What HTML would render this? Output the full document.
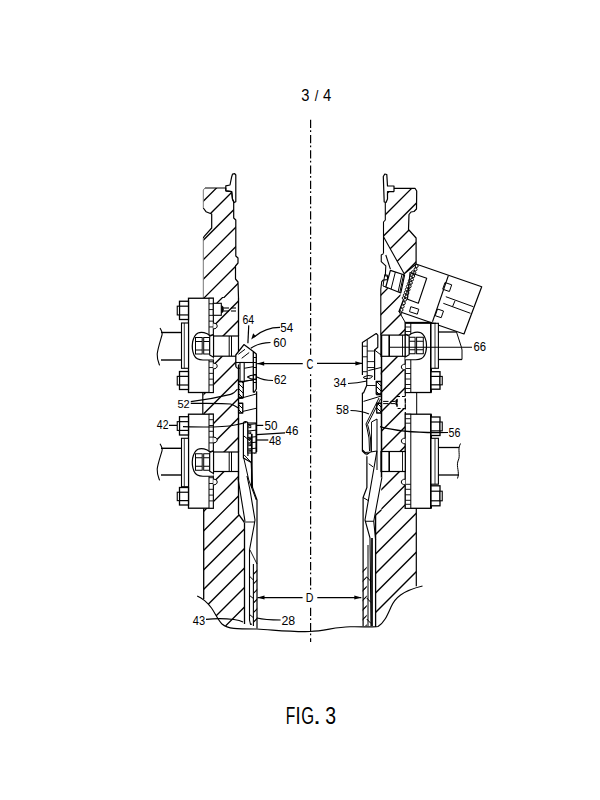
<!DOCTYPE html>
<html><head><meta charset="utf-8"><style>
html,body{margin:0;padding:0;background:#fff;overflow:hidden;}
svg{display:block;}
text{font-family:"Liberation Sans",sans-serif;fill:#000;}
</style></head><body>
<svg width="600" height="800" viewBox="0 0 600 800">
<defs><clipPath id="c1"><polygon points="203.30,190.00 205.00,188.00 225.80,188.00 225.80,190.80 231.70,191.70 232.50,199.20 233.70,202.00 233.70,218.00 235.80,220.00 235.80,256.00 238.00,258.00 238.00,263.00 235.50,266.00 235.50,279.00 238.00,282.00 238.50,298.00 203.30,298.00 203.30,238.00 204.00,236.70 211.70,228.00 211.70,214.00 206.00,211.70 203.30,208.00"/></clipPath><clipPath id="c2"><polygon points="203.30,297.00 238.50,297.00 238.50,514.20 244.50,522.50 244.50,624.00 236.00,628.80 229.00,628.00 220.00,622.00 215.00,614.00 211.00,607.00 203.70,599.00"/></clipPath><clipPath id="c3"><polygon points="385.30,202.50 387.50,191.70 394.00,191.70 394.00,188.30 415.00,188.30 416.70,191.00 416.50,209.00 414.00,211.50 411.00,212.00 409.00,214.50 408.50,229.50 416.10,238.00 416.10,264.00 404.30,273.90 383.50,236.70 383.50,222.00 385.30,220.00"/></clipPath><clipPath id="c4"><polygon points="380.70,288.50 385.70,287.40 400.40,293.00 401.50,309.90 399.00,311.50 405.30,316.00 405.30,508.30 416.30,508.30 416.30,586.30 405.00,592.50 395.00,602.50 387.50,617.50 380.00,626.30 375.60,627.00 375.60,515.00 381.25,510.00 381.25,485.00 381.90,477.50 380.70,412.00"/></clipPath><clipPath id="c5"><polygon points="238.60,381.50 243.30,381.50 243.30,397.50 238.60,397.50"/></clipPath><clipPath id="c6"><polygon points="238.60,403.25 242.75,403.25 242.75,413.00 238.60,413.00"/></clipPath><clipPath id="c7"><polygon points="253.40,565.00 257.20,565.00 257.20,626.00 253.40,626.00"/></clipPath><clipPath id="c8"><polygon points="376.25,381.50 381.25,381.50 381.25,394.00 376.25,394.00"/></clipPath><clipPath id="c9"><polygon points="376.75,403.25 381.25,403.25 381.25,413.00 376.75,413.00"/></clipPath><clipPath id="c10"><polygon points="362.60,566.00 366.75,566.00 366.75,626.00 362.60,626.00"/></clipPath></defs>
<rect x="0" y="0" width="600" height="800" fill="#fff"/>
<path d="M201.30,183.70L240.50,144.50M201.30,203.20L240.50,164.00M201.30,222.70L240.50,183.50M201.30,242.20L240.50,203.00M201.30,261.70L240.50,222.50M201.30,281.20L240.50,242.00M201.30,300.70L240.50,261.50M201.30,320.20L240.50,281.00M201.30,339.70L240.50,300.50" stroke="#000" stroke-width="1.25" fill="none" clip-path="url(#c1)"/>
<path d="M201.30,279.70L246.50,234.50M201.30,299.20L246.50,254.00M201.30,318.70L246.50,273.50M201.30,338.20L246.50,293.00M201.30,357.70L246.50,312.50M201.30,377.20L246.50,332.00M201.30,396.70L246.50,351.50M201.30,416.20L246.50,371.00M201.30,435.70L246.50,390.50M201.30,455.20L246.50,410.00M201.30,474.70L246.50,429.50M201.30,494.20L246.50,449.00M201.30,513.70L246.50,468.50M201.30,533.20L246.50,488.00M201.30,552.70L246.50,507.50M201.30,572.20L246.50,527.00M201.30,591.70L246.50,546.50M201.30,611.20L246.50,566.00M201.30,630.70L246.50,585.50M201.30,650.20L246.50,605.00M201.30,669.70L246.50,624.50M201.30,689.20L246.50,644.00" stroke="#000" stroke-width="1.25" fill="none" clip-path="url(#c2)"/>
<path d="M381.50,179.50L418.70,142.30M381.50,199.00L418.70,161.80M381.50,218.50L418.70,181.30M381.50,238.00L418.70,200.80M381.50,257.50L418.70,220.30M381.50,277.00L418.70,239.80M381.50,296.50L418.70,259.30M381.50,316.00L418.70,278.80" stroke="#000" stroke-width="1.25" fill="none" clip-path="url(#c3)"/>
<path d="M373.60,282.90L418.30,238.20M373.60,302.40L418.30,257.70M373.60,321.90L418.30,277.20M373.60,341.40L418.30,296.70M373.60,360.90L418.30,316.20M373.60,380.40L418.30,335.70M373.60,399.90L418.30,355.20M373.60,419.40L418.30,374.70M373.60,438.90L418.30,394.20M373.60,458.40L418.30,413.70M373.60,477.90L418.30,433.20M373.60,497.40L418.30,452.70M373.60,516.90L418.30,472.20M373.60,536.40L418.30,491.70M373.60,555.90L418.30,511.20M373.60,575.40L418.30,530.70M373.60,594.90L418.30,550.20M373.60,614.40L418.30,569.70M373.60,633.90L418.30,589.20M373.60,653.40L418.30,608.70M373.60,672.90L418.30,628.20" stroke="#000" stroke-width="1.25" fill="none" clip-path="url(#c4)"/>
<path d="M310.6,119.70V127.90M310.6,130.30V131.90M310.6,134.95V143.15M310.6,145.55V147.15M310.6,150.20V158.40M310.6,160.80V162.40M310.6,165.45V173.65M310.6,176.05V177.65M310.6,180.70V188.90M310.6,191.30V192.90M310.6,195.95V204.15M310.6,206.55V208.15M310.6,211.20V219.40M310.6,221.80V223.40M310.6,226.45V234.65M310.6,237.05V238.65M310.6,241.70V249.90M310.6,252.30V253.90M310.6,256.95V265.15M310.6,267.55V269.15M310.6,272.20V280.40M310.6,282.80V284.40M310.6,287.45V295.65M310.6,298.05V299.65M310.6,302.70V310.90M310.6,313.30V314.90M310.6,317.95V326.15M310.6,328.55V330.15M310.6,333.20V341.40M310.6,343.80V345.40M310.6,348.45V354.75" stroke="#000" stroke-width="1.2" fill="none"/>
<path d="M310.6,374.30V375.90M310.6,378.95V387.15M310.6,389.55V391.15M310.6,394.20V402.40M310.6,404.80V406.40M310.6,409.45V417.65M310.6,420.05V421.65M310.6,424.70V432.90M310.6,435.30V436.90M310.6,439.95V448.15M310.6,450.55V452.15M310.6,455.20V463.40M310.6,465.80V467.40M310.6,470.45V478.65M310.6,481.05V482.65M310.6,485.70V493.90M310.6,496.30V497.90M310.6,500.95V509.15M310.6,511.55V513.15M310.6,516.20V524.40M310.6,526.80V528.40M310.6,531.45V539.65M310.6,542.05V543.65M310.6,546.70V554.90M310.6,557.30V558.90M310.6,561.95V570.15M310.6,572.55V574.15M310.6,577.20V585.40M310.6,587.80V589.40" stroke="#000" stroke-width="1.2" fill="none"/>
<path d="M310.6,607.70V615.90M310.6,618.30V619.90M310.6,622.95V631.15M310.6,633.55V635.15M310.6,638.20V642.00" stroke="#000" stroke-width="1.2" fill="none"/>
<text x="0" y="0" font-size="100" transform="matrix(0.14737 0 0 0.15689 301.147 100.643)">3</text>
<text x="0" y="0" font-size="100" transform="matrix(0.12973 0 0 0.15102 314.700 100.649)">/</text>
<text x="0" y="0" font-size="100" transform="matrix(0.14851 0 0 0.16145 322.966 100.800)">4</text>
<text x="0" y="0" font-size="100" transform="matrix(0.15590 0 0 0.24436 285.714 723.800)">F</text>
<text x="0" y="0" font-size="100" transform="matrix(0.18378 0 0 0.24436 295.600 723.800)">I</text>
<text x="0" y="0" font-size="100" transform="matrix(0.16552 0 0 0.23746 301.372 723.563)">G</text>
<text x="0" y="0" font-size="100" transform="matrix(0.28947 0 0 0.26047 313.072 723.800)">.</text>
<text x="0" y="0" font-size="100" transform="matrix(0.19474 0 0 0.23746 325.270 723.563)">3</text>
<text x="0" y="0" font-size="100" transform="matrix(0.10508 0 0 0.12933 242.375 323.621)">64</text>
<text x="0" y="0" font-size="100" transform="matrix(0.11607 0 0 0.13190 280.336 331.968)">54</text>
<text x="0" y="0" font-size="100" transform="matrix(0.11785 0 0 0.13569 273.161 346.564)">60</text>
<text x="0" y="0" font-size="100" transform="matrix(0.11386 0 0 0.12721 273.931 383.873)">62</text>
<text x="0" y="0" font-size="100" transform="matrix(0.11078 0 0 0.11731 177.457 407.783)">52</text>
<text x="0" y="0" font-size="100" transform="matrix(0.10410 0 0 0.11971 156.866 428.750)">42</text>
<text x="0" y="0" font-size="100" transform="matrix(0.11719 0 0 0.12367 264.531 429.876)">50</text>
<text x="0" y="0" font-size="100" transform="matrix(0.11579 0 0 0.12933 285.539 435.271)">46</text>
<text x="0" y="0" font-size="100" transform="matrix(0.11100 0 0 0.13569 268.950 445.264)">48</text>
<text x="0" y="0" font-size="100" transform="matrix(0.11100 0 0 0.12721 192.750 624.873)">43</text>
<text x="0" y="0" font-size="100" transform="matrix(0.12383 0 0 0.12721 281.381 624.873)">28</text>
<text x="0" y="0" font-size="100" transform="matrix(0.11483 0 0 0.12014 333.569 386.880)">34</text>
<text x="0" y="0" font-size="100" transform="matrix(0.11679 0 0 0.12014 336.033 414.380)">58</text>
<text x="0" y="0" font-size="100" transform="matrix(0.10706 0 0 0.12721 448.572 436.873)">56</text>
<text x="0" y="0" font-size="100" transform="matrix(0.11302 0 0 0.12721 473.435 350.873)">66</text>
<text x="0" y="0" font-size="100" transform="matrix(0.09486 0 0 0.13781 306.526 368.862)">C</text>
<text x="0" y="0" font-size="100" transform="matrix(0.10633 0 0 0.12218 305.823 601.800)">D</text>
<polyline points="205.00,188.00 225.80,188.00 225.80,190.80 231.70,191.70 232.50,199.20 233.70,202.00 233.70,218.00 235.80,220.00 235.80,256.00 238.00,258.00 238.00,263.00 235.50,266.00 235.50,279.00 238.00,282.00 238.50,298.00" fill="none" stroke="#000" stroke-width="1.2" stroke-linejoin="round"/>
<polyline points="203.30,238.00 204.00,236.70 211.70,228.00 211.70,214.00 206.00,211.70 203.30,208.00" fill="none" stroke="#000" stroke-width="1.2" stroke-linejoin="round"/>
<line x1="203.30" y1="190.00" x2="203.30" y2="208.00" stroke="#777" stroke-width="1.0"/>
<line x1="203.30" y1="238.00" x2="203.30" y2="298.00" stroke="#777" stroke-width="1.0"/>
<polyline points="203.30,190.00 205.00,188.00" fill="none" stroke="#777" stroke-width="1.0" stroke-linejoin="round"/>
<polyline points="225.80,190.80 225.80,185.80 230.00,185.00 231.70,176.70 232.50,174.20 234.70,173.70 235.80,175.00 235.80,201.70 234.20,202.50 232.50,199.20 231.70,191.70 225.80,190.80" fill="none" stroke="#000" stroke-width="1.2" stroke-linejoin="round"/>
<line x1="202.80" y1="392.50" x2="202.80" y2="414.20" stroke="#000" stroke-width="1.2"/>
<line x1="238.50" y1="298.00" x2="238.50" y2="336.00" stroke="#000" stroke-width="1.3"/>
<line x1="238.50" y1="356.00" x2="238.50" y2="452.00" stroke="#000" stroke-width="1.3"/>
<line x1="238.50" y1="471.50" x2="238.50" y2="514.20" stroke="#000" stroke-width="1.3"/>
<line x1="238.50" y1="514.20" x2="244.50" y2="522.50" stroke="#000" stroke-width="1.3"/>
<line x1="244.50" y1="522.50" x2="244.50" y2="624.00" stroke="#000" stroke-width="1.3"/>
<line x1="203.70" y1="508.20" x2="203.70" y2="599.00" stroke="#000" stroke-width="1.3"/>
<rect x="188.50" y="298.25" width="24.80" height="94.25" fill="#fff" stroke="#000" stroke-width="1.3"/>
<rect x="209.00" y="298.25" width="4.30" height="94.25" fill="#fff" stroke="#000" stroke-width="1.0"/>
<line x1="209.00" y1="303.75" x2="213.30" y2="303.75" stroke="#000" stroke-width="0.9"/>
<line x1="209.00" y1="309.55" x2="213.30" y2="309.55" stroke="#000" stroke-width="0.9"/>
<line x1="209.00" y1="315.35" x2="213.30" y2="315.35" stroke="#000" stroke-width="0.9"/>
<line x1="209.00" y1="321.15" x2="213.30" y2="321.15" stroke="#000" stroke-width="0.9"/>
<line x1="209.00" y1="326.95" x2="213.30" y2="326.95" stroke="#000" stroke-width="0.9"/>
<line x1="209.00" y1="361.75" x2="213.30" y2="361.75" stroke="#000" stroke-width="0.9"/>
<line x1="209.00" y1="367.55" x2="213.30" y2="367.55" stroke="#000" stroke-width="0.9"/>
<line x1="209.00" y1="373.35" x2="213.30" y2="373.35" stroke="#000" stroke-width="0.9"/>
<line x1="209.00" y1="379.15" x2="213.30" y2="379.15" stroke="#000" stroke-width="0.9"/>
<line x1="209.00" y1="384.95" x2="213.30" y2="384.95" stroke="#000" stroke-width="0.9"/>
<rect x="179.50" y="301.25" width="9.00" height="18.25" fill="#fff" stroke="#000" stroke-width="1.3"/>
<line x1="179.50" y1="306.18" x2="188.50" y2="306.18" stroke="#000" stroke-width="1.2"/>
<line x1="179.50" y1="314.94" x2="188.50" y2="314.94" stroke="#000" stroke-width="1.2"/>
<rect x="177.25" y="306.18" width="2.25" height="8.76" fill="#fff" stroke="#000" stroke-width="1.1"/>
<rect x="179.50" y="371.50" width="9.00" height="18.00" fill="#fff" stroke="#000" stroke-width="1.3"/>
<line x1="179.50" y1="376.36" x2="188.50" y2="376.36" stroke="#000" stroke-width="1.2"/>
<line x1="179.50" y1="385.00" x2="188.50" y2="385.00" stroke="#000" stroke-width="1.2"/>
<rect x="177.25" y="376.36" width="2.25" height="8.64" fill="#fff" stroke="#000" stroke-width="1.1"/>
<rect x="181.50" y="323.00" width="7.00" height="45.30" fill="#fff" stroke="#000" stroke-width="1.1"/>
<line x1="184.30" y1="323.00" x2="184.30" y2="368.30" stroke="#000" stroke-width="0.8"/>
<line x1="161.00" y1="332.50" x2="181.50" y2="332.50" stroke="#000" stroke-width="1.4"/>
<line x1="161.00" y1="360.00" x2="181.50" y2="360.00" stroke="#000" stroke-width="1.4"/>
<path d="M160,328.0 C161.5,330.5 162.5,333.5 162,335.0 C160.5,340.5 158,347.625 157.2,353.95 C157,359 158,361 159.6,365.4" fill="none" stroke="#000" stroke-width="1.1" stroke-linejoin="round"/>
<rect x="213.50" y="336.00" width="25.00" height="20.20" fill="#fff" stroke="#000" stroke-width="1.2"/>
<line x1="229.20" y1="336.00" x2="229.20" y2="356.20" stroke="#000" stroke-width="1.0"/>
<line x1="231.50" y1="336.00" x2="231.50" y2="356.20" stroke="#000" stroke-width="1.0"/>
<path d="M213.5,334.5 L209.7,335.5 C207,332.5 201,331.5 198,333.0 C195,334.5 193.5,338.0 192.6,342.0 C192,346.0 192.3,351.0 194,355.0 C195.5,358.5 199,360.0 203,360.0 L213.5,360.0" fill="#fff" stroke="#000" stroke-width="1.2" stroke-linejoin="round"/>
<rect x="195.50" y="337.50" width="6.70" height="16.50" fill="#fff" stroke="#000" stroke-width="1.0"/>
<rect x="203.70" y="337.50" width="6.00" height="16.50" fill="#fff" stroke="#000" stroke-width="1.0"/>
<line x1="195.50" y1="341.50" x2="202.20" y2="341.50" stroke="#000" stroke-width="1.0"/>
<line x1="195.50" y1="350.00" x2="202.20" y2="350.00" stroke="#000" stroke-width="1.0"/>
<line x1="203.70" y1="341.50" x2="209.70" y2="341.50" stroke="#000" stroke-width="1.0"/>
<line x1="203.70" y1="350.00" x2="209.70" y2="350.00" stroke="#000" stroke-width="1.0"/>
<polyline points="209.70,336.20 213.50,334.70 213.50,357.20 209.70,355.00 209.70,336.20" fill="#fff" stroke="#000" stroke-width="1.1" stroke-linejoin="round"/>
<path d="M213.3,323.2 C218.5,322.8 218.5,329.2 213.3,328.8" fill="#fff" stroke="#000" stroke-width="1.0" stroke-linejoin="round"/>
<path d="M213.3,363.2 C218.5,362.8 218.5,369.2 213.3,368.8" fill="#fff" stroke="#000" stroke-width="1.0" stroke-linejoin="round"/>
<rect x="188.50" y="414.20" width="24.80" height="94.00" fill="#fff" stroke="#000" stroke-width="1.3"/>
<rect x="209.00" y="414.20" width="4.30" height="94.00" fill="#fff" stroke="#000" stroke-width="1.0"/>
<line x1="209.00" y1="419.70" x2="213.30" y2="419.70" stroke="#000" stroke-width="0.9"/>
<line x1="209.00" y1="425.50" x2="213.30" y2="425.50" stroke="#000" stroke-width="0.9"/>
<line x1="209.00" y1="431.30" x2="213.30" y2="431.30" stroke="#000" stroke-width="0.9"/>
<line x1="209.00" y1="437.10" x2="213.30" y2="437.10" stroke="#000" stroke-width="0.9"/>
<line x1="209.00" y1="442.90" x2="213.30" y2="442.90" stroke="#000" stroke-width="0.9"/>
<line x1="209.00" y1="477.70" x2="213.30" y2="477.70" stroke="#000" stroke-width="0.9"/>
<line x1="209.00" y1="483.50" x2="213.30" y2="483.50" stroke="#000" stroke-width="0.9"/>
<line x1="209.00" y1="489.30" x2="213.30" y2="489.30" stroke="#000" stroke-width="0.9"/>
<line x1="209.00" y1="495.10" x2="213.30" y2="495.10" stroke="#000" stroke-width="0.9"/>
<line x1="209.00" y1="500.90" x2="213.30" y2="500.90" stroke="#000" stroke-width="0.9"/>
<rect x="179.50" y="416.70" width="9.00" height="18.30" fill="#fff" stroke="#000" stroke-width="1.3"/>
<line x1="179.50" y1="421.64" x2="188.50" y2="421.64" stroke="#000" stroke-width="1.2"/>
<line x1="179.50" y1="430.43" x2="188.50" y2="430.43" stroke="#000" stroke-width="1.2"/>
<rect x="177.25" y="421.64" width="2.25" height="8.78" fill="#fff" stroke="#000" stroke-width="1.1"/>
<rect x="179.50" y="487.50" width="9.00" height="17.50" fill="#fff" stroke="#000" stroke-width="1.3"/>
<line x1="179.50" y1="492.23" x2="188.50" y2="492.23" stroke="#000" stroke-width="1.2"/>
<line x1="179.50" y1="500.62" x2="188.50" y2="500.62" stroke="#000" stroke-width="1.2"/>
<rect x="177.25" y="492.23" width="2.25" height="8.40" fill="#fff" stroke="#000" stroke-width="1.1"/>
<rect x="181.50" y="438.30" width="7.00" height="48.40" fill="#fff" stroke="#000" stroke-width="1.1"/>
<line x1="184.30" y1="438.30" x2="184.30" y2="486.70" stroke="#000" stroke-width="0.8"/>
<line x1="161.00" y1="448.30" x2="181.50" y2="448.30" stroke="#000" stroke-width="1.4"/>
<line x1="161.00" y1="475.00" x2="181.50" y2="475.00" stroke="#000" stroke-width="1.4"/>
<path d="M160,443.8 C161.5,446.3 162.5,449.3 162,450.8 C160.5,456.3 158,462.985 157.2,469.126 C157,474 158,476 159.6,480.4" fill="none" stroke="#000" stroke-width="1.1" stroke-linejoin="round"/>
<rect x="213.50" y="452.00" width="25.00" height="19.50" fill="#fff" stroke="#000" stroke-width="1.2"/>
<line x1="229.20" y1="452.00" x2="229.20" y2="471.50" stroke="#000" stroke-width="1.0"/>
<line x1="231.50" y1="452.00" x2="231.50" y2="471.50" stroke="#000" stroke-width="1.0"/>
<path d="M213.5,450.75 L209.7,451.75 C207,448.75 201,447.75 198,449.25 C195,450.75 193.5,454.25 192.6,458.25 C192,462.25 192.3,467.25 194,471.25 C195.5,474.75 199,476.25 203,476.25 L213.5,476.25" fill="#fff" stroke="#000" stroke-width="1.2" stroke-linejoin="round"/>
<rect x="195.50" y="453.75" width="6.70" height="16.50" fill="#fff" stroke="#000" stroke-width="1.0"/>
<rect x="203.70" y="453.75" width="6.00" height="16.50" fill="#fff" stroke="#000" stroke-width="1.0"/>
<line x1="195.50" y1="457.75" x2="202.20" y2="457.75" stroke="#000" stroke-width="1.0"/>
<line x1="195.50" y1="466.25" x2="202.20" y2="466.25" stroke="#000" stroke-width="1.0"/>
<line x1="203.70" y1="457.75" x2="209.70" y2="457.75" stroke="#000" stroke-width="1.0"/>
<line x1="203.70" y1="466.25" x2="209.70" y2="466.25" stroke="#000" stroke-width="1.0"/>
<polyline points="209.70,452.45 213.50,450.95 213.50,473.45 209.70,471.25 209.70,452.45" fill="#fff" stroke="#000" stroke-width="1.1" stroke-linejoin="round"/>
<path d="M213.3,437.2 C218.5,436.8 218.5,443.2 213.3,442.8" fill="#fff" stroke="#000" stroke-width="1.0" stroke-linejoin="round"/>
<path d="M213.3,479.2 C218.5,478.8 218.5,485.2 213.3,484.8" fill="#fff" stroke="#000" stroke-width="1.0" stroke-linejoin="round"/>
<rect x="213.30" y="303.30" width="8.00" height="12.00" fill="#fff" stroke="#000" stroke-width="1.1"/>
<polygon points="221.3,304.8 223.8,307.2 223.8,311.4 221.3,313.8" fill="#000"/>
<line x1="224.00" y1="308.00" x2="229.00" y2="308.00" stroke="#000" stroke-width="1.1"/>
<line x1="224.00" y1="311.00" x2="229.00" y2="311.00" stroke="#000" stroke-width="1.1"/>
<line x1="231.00" y1="308.00" x2="236.00" y2="308.00" stroke="#000" stroke-width="1.1"/>
<line x1="231.00" y1="311.00" x2="236.00" y2="311.00" stroke="#000" stroke-width="1.1"/>
<polyline points="235.80,366.70 235.80,355.00 243.90,344.60 253.30,351.50 256.30,354.00 256.30,389.00 254.50,392.00 253.30,392.00 253.30,352.00" fill="#fff" stroke="#000" stroke-width="1.3" stroke-linejoin="round"/>
<line x1="253.30" y1="357.50" x2="256.30" y2="357.50" stroke="#000" stroke-width="1.0"/>
<line x1="253.30" y1="362.50" x2="256.30" y2="362.50" stroke="#000" stroke-width="1.0"/>
<line x1="253.30" y1="367.50" x2="256.30" y2="367.50" stroke="#000" stroke-width="1.0"/>
<line x1="253.30" y1="374.50" x2="256.30" y2="374.50" stroke="#000" stroke-width="1.0"/>
<line x1="253.30" y1="382.50" x2="256.30" y2="382.50" stroke="#000" stroke-width="1.0"/>
<polyline points="235.80,366.70 237.50,368.30 240.00,368.30" fill="none" stroke="#000" stroke-width="1.1" stroke-linejoin="round"/>
<line x1="235.80" y1="362.50" x2="253.30" y2="362.50" stroke="#000" stroke-width="1.1"/>
<line x1="238.30" y1="354.30" x2="245.00" y2="349.30" stroke="#000" stroke-width="1.0"/>
<line x1="241.70" y1="358.30" x2="249.20" y2="352.50" stroke="#000" stroke-width="1.0"/>
<rect x="240.00" y="362.50" width="4.20" height="19.20" fill="#fff" stroke="#000" stroke-width="1.1"/>
<line x1="244.20" y1="368.30" x2="253.30" y2="366.70" stroke="#000" stroke-width="1.0"/>
<line x1="244.20" y1="381.20" x2="253.30" y2="380.00" stroke="#000" stroke-width="1.0"/>
<path d="M236.60,371.60L245.30,380.30M236.60,376.60L245.30,385.30M236.60,381.60L245.30,390.30M236.60,386.60L245.30,395.30M236.60,391.60L245.30,400.30M236.60,396.60L245.30,405.30" stroke="#000" stroke-width="1.0" fill="none" clip-path="url(#c5)"/>
<polygon points="238.60,381.50 243.30,381.50 243.30,397.50 238.60,397.50" fill="none" stroke="#000" stroke-width="1.3" stroke-linejoin="round"/>
<line x1="238.60" y1="397.80" x2="243.30" y2="397.80" stroke="#000" stroke-width="1.8"/>
<path d="M236.60,392.60L244.75,400.75M236.60,397.60L244.75,405.75M236.60,402.60L244.75,410.75M236.60,407.60L244.75,415.75M236.60,412.60L244.75,420.75" stroke="#000" stroke-width="1.0" fill="none" clip-path="url(#c6)"/>
<polygon points="238.60,403.25 242.75,403.25 242.75,413.00 238.60,413.00" fill="none" stroke="#000" stroke-width="1.3" stroke-linejoin="round"/>
<line x1="242.80" y1="381.70" x2="256.60" y2="379.00" stroke="#000" stroke-width="1.0"/>
<line x1="239.10" y1="398.70" x2="256.60" y2="393.90" stroke="#000" stroke-width="1.0"/>
<line x1="242.80" y1="411.40" x2="256.60" y2="408.20" stroke="#000" stroke-width="1.0"/>
<line x1="256.60" y1="391.30" x2="256.60" y2="452.00" stroke="#000" stroke-width="1.3"/>
<polyline points="254.20,453.30 256.60,451.70" fill="none" stroke="#000" stroke-width="1.0" stroke-linejoin="round"/>
<path d="M247.5,377 Q250.5,374.6 256.3,375 V379.3 Q250.5,379.6 247.5,377 Z" fill="none" stroke="#000" stroke-width="1.1" stroke-linejoin="round"/>
<path d="M243.4,456 V424 Q243.4,421.5 245.5,421.6 Q247.9,421.8 247.9,424 V456" fill="none" stroke="#000" stroke-width="1.2" stroke-linejoin="round"/>
<rect x="247.90" y="423.00" width="8.10" height="30.00" fill="#fff" stroke="#000" stroke-width="1.1"/>
<line x1="247.90" y1="424.60" x2="256.00" y2="423.80" stroke="#000" stroke-width="1.0"/>
<rect x="248.80" y="425.60" width="2.00" height="2.10" fill="#fff" stroke="#000" stroke-width="0.9"/>
<line x1="247.90" y1="431.00" x2="256.00" y2="430.20" stroke="#000" stroke-width="1.0"/>
<rect x="248.80" y="432.00" width="2.00" height="1.70" fill="#fff" stroke="#000" stroke-width="0.9"/>
<line x1="247.90" y1="437.50" x2="256.00" y2="436.70" stroke="#000" stroke-width="1.0"/>
<rect x="248.80" y="438.50" width="2.00" height="1.20" fill="#fff" stroke="#000" stroke-width="0.9"/>
<line x1="247.90" y1="443.00" x2="256.00" y2="442.20" stroke="#000" stroke-width="1.0"/>
<rect x="248.80" y="444.00" width="2.00" height="1.70" fill="#fff" stroke="#000" stroke-width="0.9"/>
<line x1="247.90" y1="449.00" x2="256.00" y2="448.20" stroke="#000" stroke-width="1.0"/>
<rect x="248.80" y="450.00" width="2.00" height="1.20" fill="#fff" stroke="#000" stroke-width="0.9"/>
<line x1="251.80" y1="433.80" x2="251.80" y2="488.00" stroke="#000" stroke-width="1.7"/>
<line x1="243.40" y1="435.60" x2="251.80" y2="442.20" stroke="#000" stroke-width="1.0"/>
<polyline points="244.00,454.80 251.25,462.50" fill="none" stroke="#000" stroke-width="1.0" stroke-linejoin="round"/>
<line x1="238.50" y1="418.00" x2="238.50" y2="480.00" stroke="#000" stroke-width="1.2"/>
<polyline points="243.40,456.00 243.40,458.00 251.25,462.50 252.50,487.50 257.00,500.00 257.00,628.50" fill="none" stroke="#000" stroke-width="1.2" stroke-linejoin="round"/>
<polyline points="243.75,458.00 248.75,480.00 256.25,500.00" fill="none" stroke="#000" stroke-width="1.0" stroke-linejoin="round"/>
<polyline points="238.10,478.80 245.00,521.30" fill="none" stroke="#000" stroke-width="1.1" stroke-linejoin="round"/>
<polyline points="247.00,476.00 250.00,490.00 255.00,520.00 254.00,526.00 249.50,550.00 249.50,620.00 250.50,624.50 252.00,624.00" fill="none" stroke="#000" stroke-width="1.1" stroke-linejoin="round"/>
<line x1="245.00" y1="522.00" x2="255.00" y2="522.00" stroke="#000" stroke-width="0.9"/>
<line x1="250.00" y1="550.00" x2="257.00" y2="564.00" stroke="#000" stroke-width="0.9"/>
<line x1="249.00" y1="575.70" x2="253.40" y2="580.00" stroke="#000" stroke-width="1.0"/>
<line x1="249.00" y1="595.00" x2="253.40" y2="598.50" stroke="#000" stroke-width="1.0"/>
<line x1="249.00" y1="614.00" x2="253.40" y2="617.70" stroke="#000" stroke-width="1.0"/>
<path d="M251.40,566.60L259.20,558.80M251.40,576.20L259.20,568.40M251.40,585.80L259.20,578.00M251.40,595.40L259.20,587.60M251.40,605.00L259.20,597.20M251.40,614.60L259.20,606.80M251.40,624.20L259.20,616.40M251.40,633.80L259.20,626.00" stroke="#000" stroke-width="1.1" fill="none" clip-path="url(#c7)"/>
<line x1="253.40" y1="564.00" x2="253.40" y2="626.00" stroke="#000" stroke-width="1.1"/>
<path d="M197.2,596 C202,598 207,602 211.5,608 C215,613 218,620 222,624 C228,629 236,629 257,629 C275,630 290,632 310,631.5 C325,631 335,627 350,626.8 C362,626.5 372,627.5 378,626.5 C384,623 387,616 391,607 C395,598 402,591 422.5,586" fill="none" stroke="#000" stroke-width="1.15" stroke-linejoin="round"/>
<line x1="257.50" y1="597.60" x2="302.60" y2="597.60" stroke="#000" stroke-width="1.1"/>
<polygon points="257.5,597.6 264.5,595.6 264.5,599.6" fill="#000"/>
<line x1="317.30" y1="597.60" x2="361.30" y2="597.60" stroke="#000" stroke-width="1.1"/>
<polygon points="361.3,597.6 354.3,595.6 354.3,599.6" fill="#000"/>
<line x1="257.20" y1="363.60" x2="302.75" y2="363.60" stroke="#000" stroke-width="1.2"/>
<polygon points="257.2,363.6 264.2,361.4 264.2,365.8" fill="#000"/>
<line x1="317.00" y1="363.40" x2="362.40" y2="363.40" stroke="#000" stroke-width="1.2"/>
<polygon points="362.4,363.4 355.4,361.2 355.4,365.6" fill="#000"/>
<line x1="248.75" y1="325.40" x2="247.90" y2="343.30" stroke="#000" stroke-width="1.2"/>
<path d="M280,327.3 C270,327.3 262,330 254,337" fill="none" stroke="#000" stroke-width="1.2" stroke-linejoin="round"/>
<polygon points="251.25,339.6 253.2,333.3 255.8,336.6" fill="#000"/>
<path d="M270.5,342.5 C262,342.8 256,344.5 250.8,348.3" fill="none" stroke="#000" stroke-width="1.2" stroke-linejoin="round"/>
<path d="M273,380.5 C268,380.5 263,380.5 257,377" fill="none" stroke="#000" stroke-width="1.2" stroke-linejoin="round"/>
<path d="M190.8,401.7 C205,400 222,396.5 230.6,394.4 C234,393.5 236,391 237.5,389" fill="none" stroke="#000" stroke-width="1.2" stroke-linejoin="round"/>
<path d="M190.8,403.3 C205,403.5 222,403 230.6,404 C234,405 236.5,407 239.1,408.2" fill="none" stroke="#000" stroke-width="1.2" stroke-linejoin="round"/>
<path d="M169,425.4 L177,425.4 M183,426.7 C200,427 220,428 235,425 C240,424 244,423 246,422.5" fill="none" stroke="#000" stroke-width="1.2" stroke-linejoin="round"/>
<line x1="256.25" y1="425.40" x2="263.30" y2="425.40" stroke="#000" stroke-width="1.2"/>
<line x1="256.70" y1="434.60" x2="285.00" y2="432.90" stroke="#000" stroke-width="1.2"/>
<line x1="256.25" y1="440.00" x2="268.30" y2="440.00" stroke="#000" stroke-width="1.2"/>
<path d="M206,619.4 C214,618.5 225,618.4 234,619.5 C239,620.3 241,621 243,622" fill="none" stroke="#000" stroke-width="1.2" stroke-linejoin="round"/>
<path d="M280.6,620 C272,620 265,620 257,618" fill="none" stroke="#000" stroke-width="1.2" stroke-linejoin="round"/>
<polyline points="394.00,188.30 415.00,188.30 416.70,191.00 416.50,209.00 414.00,211.50 411.00,212.00 409.00,214.50 408.50,229.50 416.10,238.00 416.10,264.00" fill="none" stroke="#000" stroke-width="1.2" stroke-linejoin="round"/>
<polyline points="416.10,264.00 404.30,273.90 383.50,236.70" fill="none" stroke="#000" stroke-width="1.1" stroke-linejoin="round"/>
<polyline points="385.30,202.50 385.30,220.00 383.50,222.00 383.50,253.60" fill="none" stroke="#000" stroke-width="1.1" stroke-linejoin="round"/>
<polyline points="394.00,191.70 387.50,191.70 387.50,199.00 386.00,202.50 384.20,202.00 383.30,176.50 384.80,174.00 386.80,174.50 387.50,186.00 394.00,186.00 394.00,191.70" fill="none" stroke="#000" stroke-width="1.2" stroke-linejoin="round"/>
<polyline points="383.50,253.60 381.25,255.00 381.25,261.70 385.80,265.80 385.40,274.20 385.00,275.80 387.50,276.25 387.50,279.60 383.30,280.00 381.70,281.70 380.80,289.20 380.80,335.00" fill="none" stroke="#000" stroke-width="1.1" stroke-linejoin="round"/>
<line x1="385.80" y1="255.00" x2="390.40" y2="269.20" stroke="#000" stroke-width="1.1"/>
<polygon points="390.40,270.40 404.60,275.00 400.80,293.00 385.80,287.00" fill="#fff" stroke="#000" stroke-width="1.2" stroke-linejoin="round"/>
<polyline points="395.37,272.01 391.05,289.10" fill="none" stroke="#000" stroke-width="1.0" stroke-linejoin="round"/>
<polyline points="402.04,274.17 398.10,291.92" fill="none" stroke="#000" stroke-width="1.0" stroke-linejoin="round"/>
<polyline points="403.61,274.68 399.75,292.58" fill="none" stroke="#000" stroke-width="1.0" stroke-linejoin="round"/>
<polyline points="388.20,275.50 384.80,274.60 383.00,286.00 386.30,287.20" fill="none" stroke="#000" stroke-width="1.0" stroke-linejoin="round"/>
<polygon points="416.70,264.20 481.70,286.70 464.00,334.00 399.00,311.50" fill="#fff" stroke="#000" stroke-width="1.2" stroke-linejoin="round"/>
<circle cx="416.70" cy="266.00" r="1.5" fill="#fff" stroke="#000" stroke-width="1.0"/>
<circle cx="415.53" cy="269.38" r="1.5" fill="#fff" stroke="#000" stroke-width="1.0"/>
<circle cx="414.36" cy="272.75" r="1.5" fill="#fff" stroke="#000" stroke-width="1.0"/>
<circle cx="413.19" cy="276.13" r="1.5" fill="#fff" stroke="#000" stroke-width="1.0"/>
<circle cx="412.02" cy="279.51" r="1.5" fill="#fff" stroke="#000" stroke-width="1.0"/>
<circle cx="410.85" cy="282.88" r="1.5" fill="#fff" stroke="#000" stroke-width="1.0"/>
<circle cx="409.68" cy="286.26" r="1.5" fill="#fff" stroke="#000" stroke-width="1.0"/>
<circle cx="408.52" cy="289.64" r="1.5" fill="#fff" stroke="#000" stroke-width="1.0"/>
<circle cx="407.35" cy="293.02" r="1.5" fill="#fff" stroke="#000" stroke-width="1.0"/>
<circle cx="406.18" cy="296.39" r="1.5" fill="#fff" stroke="#000" stroke-width="1.0"/>
<circle cx="405.01" cy="299.77" r="1.5" fill="#fff" stroke="#000" stroke-width="1.0"/>
<circle cx="403.84" cy="303.15" r="1.5" fill="#fff" stroke="#000" stroke-width="1.0"/>
<circle cx="402.67" cy="306.52" r="1.5" fill="#fff" stroke="#000" stroke-width="1.0"/>
<circle cx="401.50" cy="309.90" r="1.5" fill="#fff" stroke="#000" stroke-width="1.0"/>
<circle cx="412.80" cy="272.00" r="1.3" fill="#fff" stroke="#000" stroke-width="0.9"/>
<circle cx="411.77" cy="274.89" r="1.3" fill="#fff" stroke="#000" stroke-width="0.9"/>
<circle cx="410.73" cy="277.78" r="1.3" fill="#fff" stroke="#000" stroke-width="0.9"/>
<circle cx="409.70" cy="280.67" r="1.3" fill="#fff" stroke="#000" stroke-width="0.9"/>
<circle cx="408.67" cy="283.56" r="1.3" fill="#fff" stroke="#000" stroke-width="0.9"/>
<circle cx="407.63" cy="286.44" r="1.3" fill="#fff" stroke="#000" stroke-width="0.9"/>
<circle cx="406.60" cy="289.33" r="1.3" fill="#fff" stroke="#000" stroke-width="0.9"/>
<circle cx="405.57" cy="292.22" r="1.3" fill="#fff" stroke="#000" stroke-width="0.9"/>
<circle cx="404.53" cy="295.11" r="1.3" fill="#fff" stroke="#000" stroke-width="0.9"/>
<circle cx="403.50" cy="298.00" r="1.3" fill="#fff" stroke="#000" stroke-width="0.9"/>
<polygon points="410.00,272.50 426.70,278.30 418.30,303.30 407.50,299.20" fill="none" stroke="#000" stroke-width="1.1" stroke-linejoin="round"/>
<line x1="448.30" y1="275.80" x2="432.50" y2="321.70" stroke="#000" stroke-width="1.1"/>
<polygon points="445.00,282.50 451.70,284.80 449.40,291.50 442.70,289.20" fill="none" stroke="#000" stroke-width="1.0" stroke-linejoin="round"/>
<polygon points="437.50,309.00 443.50,311.00 441.20,317.70 435.20,315.70" fill="none" stroke="#000" stroke-width="1.0" stroke-linejoin="round"/>
<polygon points="410.80,306.70 418.75,309.20 417.30,314.20 409.50,311.70" fill="none" stroke="#000" stroke-width="1.0" stroke-linejoin="round"/>
<polyline points="445.80,296.70 473.30,306.70" fill="none" stroke="#000" stroke-width="1.0" stroke-linejoin="round"/>
<polyline points="443.30,303.30 470.50,313.30" fill="none" stroke="#000" stroke-width="1.0" stroke-linejoin="round"/>
<line x1="455.00" y1="300.80" x2="452.50" y2="306.70" stroke="#000" stroke-width="1.0"/>
<line x1="399.00" y1="311.50" x2="405.30" y2="322.50" stroke="#000" stroke-width="1.0"/>
<rect x="405.30" y="322.50" width="25.70" height="70.00" fill="#fff" stroke="#000" stroke-width="1.3"/>
<line x1="431.00" y1="322.50" x2="431.00" y2="392.50" stroke="#000" stroke-width="2.0"/>
<rect x="405.30" y="322.50" width="5.50" height="70.00" fill="#fff" stroke="#000" stroke-width="1.0"/>
<line x1="405.30" y1="327.00" x2="410.80" y2="327.00" stroke="#000" stroke-width="0.9"/>
<line x1="405.30" y1="331.50" x2="410.80" y2="331.50" stroke="#000" stroke-width="0.9"/>
<line x1="405.30" y1="368.50" x2="410.80" y2="368.50" stroke="#000" stroke-width="0.9"/>
<line x1="405.30" y1="373.50" x2="410.80" y2="373.50" stroke="#000" stroke-width="0.9"/>
<line x1="405.30" y1="379.00" x2="410.80" y2="379.00" stroke="#000" stroke-width="0.9"/>
<line x1="405.30" y1="384.50" x2="410.80" y2="384.50" stroke="#000" stroke-width="0.9"/>
<line x1="405.30" y1="388.50" x2="410.80" y2="388.50" stroke="#000" stroke-width="0.9"/>
<rect x="431.00" y="371.70" width="9.00" height="17.50" fill="#fff" stroke="#000" stroke-width="1.3"/>
<line x1="431.00" y1="376.43" x2="440.00" y2="376.43" stroke="#000" stroke-width="1.2"/>
<line x1="431.00" y1="384.82" x2="440.00" y2="384.82" stroke="#000" stroke-width="1.2"/>
<rect x="440.00" y="376.43" width="2.25" height="8.40" fill="#fff" stroke="#000" stroke-width="1.1"/>
<rect x="431.00" y="323.30" width="7.40" height="45.00" fill="#fff" stroke="#000" stroke-width="1.1"/>
<line x1="435.00" y1="323.30" x2="435.00" y2="368.30" stroke="#000" stroke-width="0.8"/>
<rect x="381.00" y="335.10" width="24.30" height="21.20" fill="#fff" stroke="#000" stroke-width="1.2"/>
<line x1="389.20" y1="335.10" x2="389.20" y2="356.30" stroke="#000" stroke-width="1.6"/>
<line x1="402.50" y1="335.10" x2="402.50" y2="356.30" stroke="#000" stroke-width="0.9"/>
<path d="M405.3,334.25 L409.1,335.25 C411.8,332.25 417.8,331.25 420.8,332.75 C423.8,334.25 425.3,337.75 426.2,341.75 C426.8,345.75 426.5,350.75 424.8,354.75 C423.3,358.25 419.8,359.75 415.8,359.75 L405.3,359.75" fill="#fff" stroke="#000" stroke-width="1.2" stroke-linejoin="round"/>
<rect x="409.10" y="337.25" width="6.00" height="16.50" fill="#fff" stroke="#000" stroke-width="1.0"/>
<rect x="416.60" y="337.25" width="6.70" height="16.50" fill="#fff" stroke="#000" stroke-width="1.0"/>
<line x1="409.10" y1="341.25" x2="415.10" y2="341.25" stroke="#000" stroke-width="1.0"/>
<line x1="409.10" y1="349.75" x2="415.10" y2="349.75" stroke="#000" stroke-width="1.0"/>
<line x1="416.60" y1="341.25" x2="423.30" y2="341.25" stroke="#000" stroke-width="1.0"/>
<line x1="416.60" y1="349.75" x2="423.30" y2="349.75" stroke="#000" stroke-width="1.0"/>
<polyline points="409.10,335.95 405.30,334.45 405.30,356.95 409.10,354.75 409.10,335.95" fill="#fff" stroke="#000" stroke-width="1.1" stroke-linejoin="round"/>
<path d="M405.3,364.2 C400,363.8 400,370.2 405.3,369.8" fill="#fff" stroke="#000" stroke-width="1.0" stroke-linejoin="round"/>
<line x1="438.40" y1="332.00" x2="456.50" y2="332.00" stroke="#000" stroke-width="1.3"/>
<line x1="438.40" y1="359.50" x2="462.00" y2="359.50" stroke="#000" stroke-width="1.3"/>
<polyline points="456.50,332.00 461.50,347.50 462.00,350.00 462.00,359.50" fill="none" stroke="#000" stroke-width="1.0" stroke-linejoin="round"/>
<line x1="405.30" y1="323.30" x2="436.00" y2="323.30" stroke="#000" stroke-width="1.1"/>
<rect x="405.30" y="414.20" width="25.70" height="94.10" fill="#fff" stroke="#000" stroke-width="1.3"/>
<line x1="431.00" y1="414.20" x2="431.00" y2="508.30" stroke="#000" stroke-width="2.0"/>
<rect x="405.30" y="414.20" width="5.50" height="94.10" fill="#fff" stroke="#000" stroke-width="1.0"/>
<line x1="405.30" y1="418.70" x2="410.80" y2="418.70" stroke="#000" stroke-width="0.9"/>
<line x1="405.30" y1="423.20" x2="410.80" y2="423.20" stroke="#000" stroke-width="0.9"/>
<line x1="405.30" y1="484.30" x2="410.80" y2="484.30" stroke="#000" stroke-width="0.9"/>
<line x1="405.30" y1="489.30" x2="410.80" y2="489.30" stroke="#000" stroke-width="0.9"/>
<line x1="405.30" y1="494.80" x2="410.80" y2="494.80" stroke="#000" stroke-width="0.9"/>
<line x1="405.30" y1="500.30" x2="410.80" y2="500.30" stroke="#000" stroke-width="0.9"/>
<line x1="405.30" y1="504.30" x2="410.80" y2="504.30" stroke="#000" stroke-width="0.9"/>
<rect x="431.00" y="417.00" width="9.00" height="18.50" fill="#fff" stroke="#000" stroke-width="1.3"/>
<line x1="431.00" y1="422.00" x2="440.00" y2="422.00" stroke="#000" stroke-width="1.2"/>
<line x1="431.00" y1="430.88" x2="440.00" y2="430.88" stroke="#000" stroke-width="1.2"/>
<rect x="440.00" y="422.00" width="2.25" height="8.88" fill="#fff" stroke="#000" stroke-width="1.1"/>
<rect x="431.00" y="485.80" width="9.00" height="20.00" fill="#fff" stroke="#000" stroke-width="1.3"/>
<line x1="431.00" y1="491.20" x2="440.00" y2="491.20" stroke="#000" stroke-width="1.2"/>
<line x1="431.00" y1="500.80" x2="440.00" y2="500.80" stroke="#000" stroke-width="1.2"/>
<rect x="440.00" y="491.20" width="2.25" height="9.60" fill="#fff" stroke="#000" stroke-width="1.1"/>
<rect x="431.00" y="438.30" width="7.40" height="45.90" fill="#fff" stroke="#000" stroke-width="1.1"/>
<line x1="435.00" y1="438.30" x2="435.00" y2="484.20" stroke="#000" stroke-width="0.8"/>
<rect x="381.00" y="451.50" width="24.30" height="20.00" fill="#fff" stroke="#000" stroke-width="1.2"/>
<line x1="389.20" y1="451.50" x2="389.20" y2="471.50" stroke="#000" stroke-width="1.6"/>
<line x1="402.50" y1="451.50" x2="402.50" y2="471.50" stroke="#000" stroke-width="0.9"/>
<path d="M405.3,438.2 C400,437.8 400,444.2 405.3,443.8" fill="#fff" stroke="#000" stroke-width="1.0" stroke-linejoin="round"/>
<path d="M405.3,479.2 C400,478.8 400,485.2 405.3,484.8" fill="#fff" stroke="#000" stroke-width="1.0" stroke-linejoin="round"/>
<line x1="438.40" y1="447.50" x2="459.00" y2="447.50" stroke="#000" stroke-width="1.3"/>
<line x1="438.40" y1="475.00" x2="459.00" y2="475.00" stroke="#000" stroke-width="1.3"/>
<path d="M460.5,443.5 C457,450 461,455 458,461 C456,467 460,472 457.5,478.5" fill="none" stroke="#000" stroke-width="1.0" stroke-linejoin="round"/>
<line x1="416.70" y1="392.50" x2="416.70" y2="414.20" stroke="#000" stroke-width="1.0"/>
<line x1="381.50" y1="335.00" x2="381.50" y2="477.50" stroke="#000" stroke-width="1.5"/>
<line x1="381.25" y1="510.00" x2="375.60" y2="515.00" stroke="#000" stroke-width="1.3"/>
<line x1="375.60" y1="515.00" x2="375.60" y2="627.00" stroke="#000" stroke-width="1.3"/>
<line x1="416.30" y1="508.30" x2="416.30" y2="586.30" stroke="#000" stroke-width="1.2"/>
<rect x="397" y="396.5" width="8.3" height="12" fill="#fff" stroke="#000" stroke-width="1.1" stroke-dasharray="3,2"/>
<line x1="405.3" y1="392.5" x2="405.3" y2="414.2" stroke="#000" stroke-width="1.2" stroke-dasharray="4,2.5"/>
<polygon points="397.5,398.5 395.5,400.5 395.5,404.5 397.5,406.5" fill="#000"/>
<line x1="383.10" y1="401.40" x2="388.50" y2="401.40" stroke="#000" stroke-width="1.0"/>
<line x1="383.10" y1="403.60" x2="388.50" y2="403.60" stroke="#000" stroke-width="1.0"/>
<line x1="390.50" y1="401.40" x2="395.50" y2="401.40" stroke="#000" stroke-width="1.0"/>
<line x1="390.50" y1="403.60" x2="395.50" y2="403.60" stroke="#000" stroke-width="1.0"/>
<line x1="390.00" y1="347.20" x2="472.00" y2="347.20" stroke="#000" stroke-width="1.1"/>
<polyline points="374.60,380.00 374.60,350.00 377.80,347.30 377.80,335.10 376.20,333.50 362.40,342.50 362.40,374.90" fill="#fff" stroke="#000" stroke-width="1.2" stroke-linejoin="round"/>
<line x1="367.20" y1="340.00" x2="367.20" y2="379.00" stroke="#000" stroke-width="1.0"/>
<line x1="362.40" y1="346.20" x2="367.20" y2="346.20" stroke="#000" stroke-width="0.9"/>
<line x1="362.40" y1="356.80" x2="367.20" y2="356.80" stroke="#000" stroke-width="0.9"/>
<line x1="362.40" y1="371.70" x2="367.20" y2="371.70" stroke="#000" stroke-width="0.9"/>
<line x1="367.20" y1="351.00" x2="374.60" y2="351.00" stroke="#000" stroke-width="0.9"/>
<line x1="367.20" y1="361.60" x2="374.60" y2="361.60" stroke="#000" stroke-width="0.9"/>
<line x1="367.20" y1="367.50" x2="374.60" y2="367.50" stroke="#000" stroke-width="0.9"/>
<path d="M363.5,377 Q368,374.5 372.5,376 Q371.5,379 366,378.5 Q363,378.5 363.5,377 Z" fill="none" stroke="#000" stroke-width="1.0" stroke-linejoin="round"/>
<polyline points="366.70,379.00 366.70,385.50 363.50,393.00 362.40,393.00 362.40,451.00 365.50,454.00 369.00,453.50" fill="none" stroke="#000" stroke-width="1.2" stroke-linejoin="round"/>
<line x1="366.70" y1="385.50" x2="375.70" y2="385.50" stroke="#000" stroke-width="0.9"/>
<line x1="368.30" y1="370.60" x2="381.00" y2="367.50" stroke="#000" stroke-width="1.0"/>
<polyline points="374.60,350.00 381.00,355.00" fill="none" stroke="#000" stroke-width="1.0" stroke-linejoin="round"/>
<path d="M374.25,374.25L383.25,383.25M374.25,379.25L383.25,388.25M374.25,384.25L383.25,393.25M374.25,389.25L383.25,398.25M374.25,394.25L383.25,403.25" stroke="#000" stroke-width="1.0" fill="none" clip-path="url(#c8)"/>
<polygon points="376.25,381.50 381.25,381.50 381.25,394.00 376.25,394.00" fill="none" stroke="#000" stroke-width="1.3" stroke-linejoin="round"/>
<line x1="376.25" y1="394.50" x2="381.25" y2="394.50" stroke="#000" stroke-width="1.6"/>
<path d="M374.75,395.75L383.25,404.25M374.75,400.75L383.25,409.25M374.75,405.75L383.25,414.25M374.75,410.75L383.25,419.25M374.75,415.75L383.25,424.25" stroke="#000" stroke-width="1.0" fill="none" clip-path="url(#c9)"/>
<polygon points="376.75,403.25 381.25,403.25 381.25,413.00 376.75,413.00" fill="none" stroke="#000" stroke-width="1.3" stroke-linejoin="round"/>
<line x1="363.50" y1="401.40" x2="381.00" y2="396.10" stroke="#000" stroke-width="1.0"/>
<polyline points="379.00,398.00 366.00,424.00 367.00,428.00 369.00,438.00 369.50,451.00" fill="none" stroke="#000" stroke-width="1.0" stroke-linejoin="round"/>
<polyline points="380.50,399.00 367.50,424.50 368.50,428.00 370.50,438.00 371.00,451.00" fill="none" stroke="#000" stroke-width="1.0" stroke-linejoin="round"/>
<line x1="371.50" y1="422.00" x2="371.50" y2="452.00" stroke="#000" stroke-width="0.9"/>
<polyline points="371.50,422.00 377.00,419.00 377.00,470.00" fill="none" stroke="#000" stroke-width="1.0" stroke-linejoin="round"/>
<polyline points="362.50,450.00 365.00,452.50 370.60,452.00 376.90,451.00" fill="none" stroke="#000" stroke-width="1.1" stroke-linejoin="round"/>
<polyline points="366.25,455.00 370.60,452.00" fill="none" stroke="#000" stroke-width="1.0" stroke-linejoin="round"/>
<polyline points="366.90,456.25 366.90,487.50 363.10,497.50 363.10,626.00" fill="none" stroke="#000" stroke-width="1.2" stroke-linejoin="round"/>
<polyline points="376.90,451.00 371.00,485.00 365.00,520.00 370.00,538.00 371.00,626.00" fill="none" stroke="#000" stroke-width="1.1" stroke-linejoin="round"/>
<polyline points="381.90,477.50 373.75,521.25 375.60,540.00" fill="none" stroke="#000" stroke-width="1.1" stroke-linejoin="round"/>
<line x1="363.10" y1="497.50" x2="369.00" y2="501.00" stroke="#000" stroke-width="1.0"/>
<line x1="365.00" y1="521.25" x2="373.75" y2="521.25" stroke="#000" stroke-width="1.0"/>
<line x1="368.75" y1="463.75" x2="373.10" y2="466.90" stroke="#000" stroke-width="1.0"/>
<line x1="372.00" y1="538.00" x2="372.00" y2="626.00" stroke="#000" stroke-width="1.7"/>
<path d="M360.60,564.00L368.75,555.85M360.60,573.60L368.75,565.45M360.60,583.20L368.75,575.05M360.60,592.80L368.75,584.65M360.60,602.40L368.75,594.25M360.60,612.00L368.75,603.85M360.60,621.60L368.75,613.45M360.60,631.20L368.75,623.05M360.60,640.80L368.75,632.65" stroke="#000" stroke-width="1.1" fill="none" clip-path="url(#c10)"/>
<line x1="366.75" y1="577.00" x2="371.00" y2="581.50" stroke="#000" stroke-width="1.0"/>
<line x1="366.75" y1="598.00" x2="371.00" y2="602.50" stroke="#000" stroke-width="1.0"/>
<line x1="366.75" y1="619.00" x2="371.00" y2="623.50" stroke="#000" stroke-width="1.0"/>
<line x1="368.00" y1="545.00" x2="368.00" y2="626.00" stroke="#000" stroke-width="1.0"/>
<path d="M348,383.5 C352,383.3 357,383 367,381" fill="none" stroke="#000" stroke-width="1.2" stroke-linejoin="round"/>
<path d="M350.5,410.5 C356,410.6 362,411 369,414" fill="none" stroke="#000" stroke-width="1.2" stroke-linejoin="round"/>
<path d="M380,426.7 C395,431 420,433.2 448,432.5" fill="none" stroke="#000" stroke-width="1.2" stroke-linejoin="round"/>
</svg></body></html>
